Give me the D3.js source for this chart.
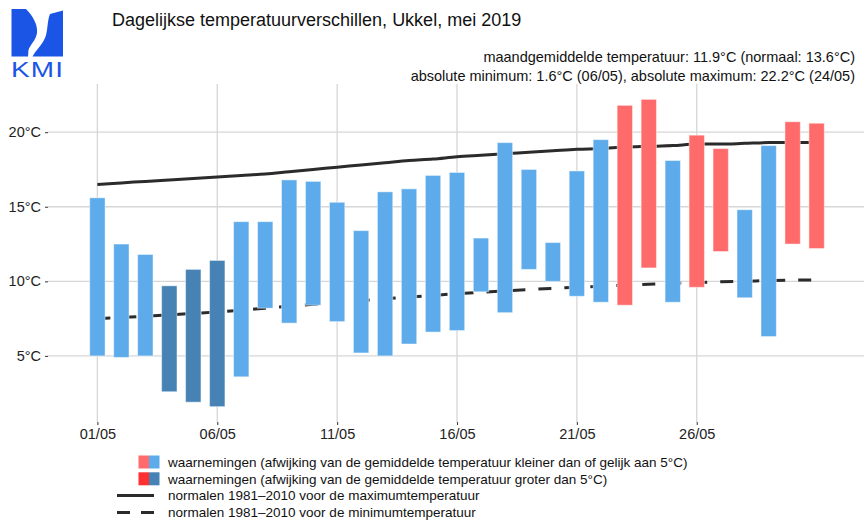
<!DOCTYPE html>
<html lang="nl">
<head>
<meta charset="utf-8">
<script src="https://d3js.org/d3.v7.min.js"></script>
<title>Dagelijkse temperatuurverschillen, Ukkel, mei 2019</title>
<style>
  body { margin: 0; background: #fff; }
  svg { display: block; font-family: "Liberation Sans", Arial, sans-serif; }
</style>
</head>
<body>
<svg id="chart" width="864" height="521"></svg>
<script>
const days = d3.range(1, 32);
const tmax = [15.6, 12.5, 11.8, 9.7, 10.8, 11.4, 14.0, 14.0, 16.8, 16.7, 15.3, 13.4, 16.0, 16.2, 17.1, 17.3,
              12.9, 19.3, 17.5, 12.6, 17.4, 19.5, 21.8, 22.2, 18.1, 19.8, 18.9, 14.8, 19.1, 20.7, 20.6];
const tmin = [5.0, 4.9, 5.0, 2.6, 1.9, 1.6, 3.6, 8.2, 7.2, 8.4, 7.3, 5.2, 5.0, 5.8, 6.6, 6.7,
              9.3, 7.9, 10.8, 10.0, 9.0, 8.6, 8.4, 10.9, 8.6, 9.6, 12.0, 8.9, 6.3, 12.5, 12.2];
// c = colder than normal, w = warmer; capital = deviation of the mean larger than 5°C
const anomaly = ["c","c","c","C","C","C","c","c","c","c","c","c","c","c","c","c",
                 "c","c","c","c","c","c","w","w","c","w","w","c","c","w","w"];
// normals 1981-2010
const normMax = [16.5, 16.6, 16.7, 16.8, 16.9, 17.0, 17.1, 17.2, 17.35, 17.5, 17.65, 17.8, 17.95, 18.1, 18.2, 18.35,
                 18.45, 18.55, 18.65, 18.75, 18.85, 18.9, 19.0, 19.05, 19.1, 19.2, 19.2, 19.25, 19.3, 19.3, 19.3];
const normMin = [7.5, 7.58, 7.66, 7.75, 7.85, 7.95, 8.07, 8.2, 8.33, 8.46, 8.59, 8.71, 8.83, 8.95, 9.06, 9.17,
                 9.27, 9.36, 9.45, 9.53, 9.6, 9.67, 9.74, 9.8, 9.86, 9.92, 9.97, 10.01, 10.05, 10.08, 10.1];
const yTicks = [5, 10, 15, 20];
const xTicks = [1, 6, 11, 16, 21, 26];

const colors = { c: "#5DABEA", C: "#4682B4", w: "#FF6B6B", W: "#FF3030" };

const svg = d3.select("#chart");
const panel = { left: 48, right: 866, top: 84, bottom: 422 };

const x = d3.scaleLinear().domain([1 - 2.06, 31 + 2.06]).range([panel.left, panel.right]);
const y = d3.scaleLinear().domain([0.57, 23.23]).range([panel.bottom, panel.top]);
const barW = x(1.64) - x(1);

// grid
const grid = svg.append("g");
grid.selectAll(".gy").data(yTicks).join("line")
  .attr("x1", panel.left).attr("x2", panel.right)
  .attr("y1", d => y(d)).attr("y2", d => y(d))
  .attr("stroke", "#d6d6d6").attr("stroke-width", 1.3);
grid.selectAll(".gx").data(xTicks).join("line")
  .attr("x1", d => x(d)).attr("x2", d => x(d))
  .attr("y1", panel.top).attr("y2", panel.bottom)
  .attr("stroke", "#d6d6d6").attr("stroke-width", 1.3);

// axes
const yAxis = svg.append("g").attr("transform", `translate(${panel.left},0)`)
  .call(d3.axisLeft(y).tickValues(yTicks).tickSize(3).tickPadding(4).tickFormat(d => d + "°C"));
const xAxis = svg.append("g").attr("transform", `translate(0,${panel.bottom})`)
  .call(d3.axisBottom(x).tickValues(xTicks).tickSize(3).tickPadding(4)
    .tickFormat(d => d3.format("02d")(d) + "/05"));
[yAxis, xAxis].forEach(a => {
  a.select(".domain").remove();
  a.selectAll(".tick line").attr("stroke", "#444").attr("stroke-width", 1.1);
  a.selectAll(".tick text").attr("fill", "#222").style("font-size", "14.5px")
    .style("font-family", "'Liberation Sans', Arial, sans-serif");
});

// normals
const normLine = d3.line().x((d, i) => x(days[i])).y(d => y(d)).curve(d3.curveMonotoneX);
svg.append("path").datum(normMax).attr("d", normLine)
  .attr("fill", "none").attr("stroke", "#2b2b2b").attr("stroke-width", 3);
svg.append("path").datum(normMin).attr("d", normLine)
  .attr("fill", "none").attr("stroke", "#2b2b2b").attr("stroke-width", 3)
  .attr("stroke-dasharray", "13,13");

// bars
svg.append("g").selectAll("rect").data(days).join("rect")
  .attr("x", d => x(d) - barW / 2)
  .attr("width", barW)
  .attr("y", (d, i) => y(tmax[i]))
  .attr("height", (d, i) => y(tmin[i]) - y(tmax[i]))
  .attr("fill", (d, i) => colors[anomaly[i]])
  .attr("stroke", "rgba(255,255,255,0.45)").attr("stroke-width", 1);

// titles
svg.append("text").attr("x", 112).attr("y", 26)
  .style("font-size", "18px").attr("fill", "#111")
  .text("Dagelijkse temperatuurverschillen, Ukkel, mei 2019");
svg.append("text").attr("x", 855).attr("y", 62).attr("text-anchor", "end")
  .style("font-size", "14.5px").attr("fill", "#111")
  .text("maandgemiddelde temperatuur: 11.9°C (normaal: 13.6°C)");
svg.append("text").attr("x", 855).attr("y", 81).attr("text-anchor", "end")
  .style("font-size", "14.5px").attr("fill", "#111")
  .text("absolute minimum: 1.6°C (06/05), absolute maximum: 22.2°C (24/05)");

// logo
const logo = svg.append("g").attr("fill", "#1A55E6");
logo.append("path").attr("d", "M11.5,9 L26,9 C33,16 38,25 37,33 C36,40 30,45 28.5,50 L28,56.5 L11.5,56.5 Z");
logo.append("path").attr("d", "M50,14 L63,10.5 L63,56.5 L32.5,56.5 C36,50 42,45 45,38 C48,31 47,21 50,14 Z");
logo.append("text").attr("transform", "translate(11,76.5) scale(1.3,1)")
  .attr("textLength", 40).attr("lengthAdjust", "spacing")
  .style("font-size", "21.5px").text("KMI");

// legend
const legendLabels = [
  "waarnemingen (afwijking van de gemiddelde temperatuur kleiner dan of gelijk aan 5°C)",
  "waarnemingen (afwijking van de gemiddelde temperatuur groter dan 5°C)",
  "normalen 1981\u20132010 voor de maximumtemperatuur",
  "normalen 1981\u20132010 voor de minimumtemperatuur"
];
const legendPairs = [["w", "c"], ["W", "C"]];
const lg = svg.append("g");
const rowY = i => 462 + i * 16.8;
legendLabels.forEach((t, i) => {
  lg.append("text").attr("x", 168).attr("y", rowY(i) + 4.8)
    .style("font-size", "13.5px").attr("fill", "#111").text(t);
});
legendPairs.forEach((p, i) => {
  p.forEach((k, j) => {
    lg.append("rect").attr("x", 138.5 + j * 10.5).attr("y", rowY(i) - 6.5)
      .attr("width", 10.5).attr("height", 13).attr("fill", colors[k]);
  });
});
lg.append("line").attr("x1", 117).attr("x2", 154).attr("y1", rowY(2)).attr("y2", rowY(2))
  .attr("stroke", "#2b2b2b").attr("stroke-width", 3);
lg.append("line").attr("x1", 117).attr("x2", 154).attr("y1", rowY(3)).attr("y2", rowY(3))
  .attr("stroke", "#2b2b2b").attr("stroke-width", 3).attr("stroke-dasharray", "13,11");
</script>
</body>
</html>
